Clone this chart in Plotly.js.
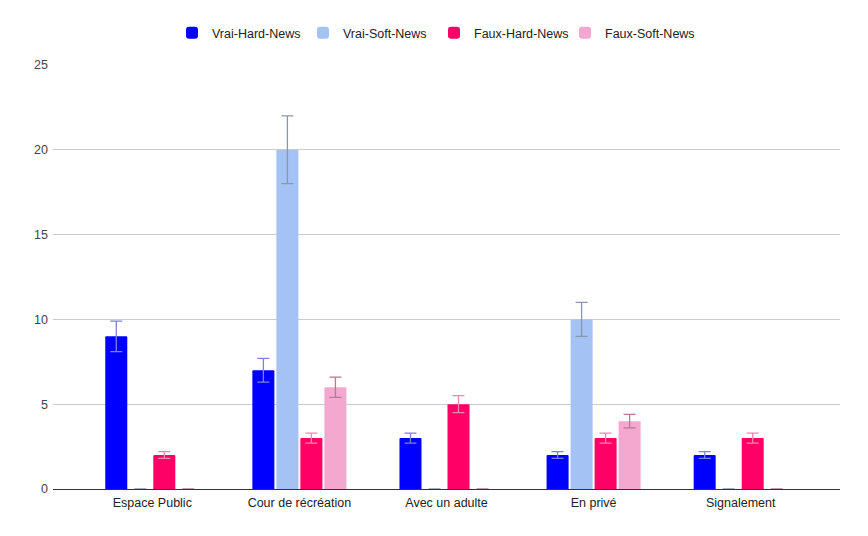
<!DOCTYPE html>
<html>
<head>
<meta charset="utf-8">
<script src="https://cdn.plot.ly/plotly-3.0.1.min.js"></script>
<style>
  html, body { margin: 0; padding: 0; background: #fff; }
  #chart { width: 868px; height: 536px; }
</style>
</head>
<body>
<div id="chart"></div>
<script>
// categories and series
var categories = ["Espace Public", "Cour de récréation", "Avec un adulte", "En privé", "Signalement"];

var vraiHard = [9, 7, 3, 2, 2];
var vraiSoft = [0, 20, 0, 10, 0];
var fauxHard = [2, 3, 5, 3, 3];
var fauxSoft = [0, 6, 0, 4, 0];

// error bar half-lengths
var vraiHardErr = [0.9, 0.7, 0.3, 0.2, 0.2];
var vraiSoftErr = [0, 2, 0, 1, 0];
var fauxHardErr = [0.2, 0.3, 0.5, 0.3, 0.3];
var fauxSoftErr = [0, 0.6, 0, 0.4, 0];

function makeTrace(name, values, errs, color, errColor) {
	return {
		type: 'bar',
		name: name,
		x: categories,
		y: values,
		marker: {color: color},
		error_y: {type: 'data', array: errs, visible: true, color: errColor, thickness: 1.3, width: 6},
		hoverinfo: 'y+name'
	};
}

var data = [
	makeTrace('Vrai-Hard-News', vraiHard, vraiHardErr, '#0000ff', '#8080e0'),
	makeTrace('Vrai-Soft-News', vraiSoft, vraiSoftErr, '#a4c2f4', '#8a96ae'),
	makeTrace('Faux-Hard-News', fauxHard, fauxHardErr, '#ff0066', '#e88ab0'),
	makeTrace('Faux-Soft-News', fauxSoft, fauxSoftErr, '#f4a7cf', '#b87898')
];

var layout = {
	width: 868,
	height: 536,
	margin: {l: 53, r: 28, t: 65, b: 47},
	paper_bgcolor: '#ffffff',
	plot_bgcolor: '#ffffff',
	font: {family: 'Liberation Sans, Arial, sans-serif', size: 12.5, color: '#222'},
	barmode: 'group',
	bargap: 0.347,
	bargroupgap: 0.083,
	barcornerradius: 1.5,
	showlegend: true,
	legend: {
		orientation: 'h',
		x: 0.5, xanchor: 'center', xref: 'container',
		y: 0.938, yanchor: 'middle', yref: 'container',
		font: {size: 12.5, color: '#222'},
		itemwidth: 30,
		entrywidth: 86
	},
	xaxis: {
		type: 'category',
		range: [-0.675, 4.675],
		showgrid: false,
		ticks: '',
		ticklabelstandoff: 4,
		tickfont: {size: 12.5, color: '#222'},
		showline: false
	},
	yaxis: {
		range: [0, 25],
		dtick: 5,
		showgrid: true,
		gridcolor: '#cccccc',
		gridwidth: 1,
		zeroline: true,
		zerolinecolor: '#333333',
		zerolinewidth: 1,
		ticks: '',
		ticklabelstandoff: 4,
		tickfont: {size: 12.5, color: '#444'},
		fixedrange: true
	}
};

Plotly.newPlot('chart', data, layout, {displayModeBar: false, staticPlot: true});
</script>
</body>
</html>
